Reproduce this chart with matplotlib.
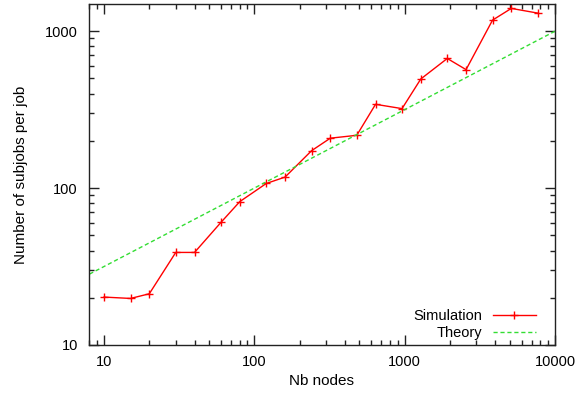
import matplotlib
matplotlib.use("Agg")
import matplotlib.pyplot as plt
from matplotlib.ticker import LogLocator, NullFormatter, FixedLocator, FixedFormatter

plt.rcParams['font.family'] = ['Liberation Sans', 'DejaVu Sans']

# simulation results: number of nodes vs subjobs per job
nodes = [10, 15, 20, 30, 40, 60, 80, 120, 160, 240, 320, 480, 640, 960,
         1280, 1920, 2560, 3840, 5120, 7680]
subjobs = [20.2, 19.8, 21.2, 38.9, 38.9, 60.5, 82, 107, 117.5, 173, 208, 217,
           342, 321, 496, 670, 569, 1176, 1397, 1304]

# theoretical curve (straight line on log-log axes)
theory_x = [8, 10000]
theory_y = [28.3, 1000]

xticks = [10, 100, 1000, 10000]
yticks = [10, 100, 1000]

fig = plt.figure(figsize=(5.77, 3.94), dpi=100)
ax = fig.add_axes([0.1542, 0.1244, 0.8077, 0.8654])

ax.plot(nodes, subjobs, color='#ff0000', lw=1.0, marker='+', ms=6, mew=1.0,
        label='Simulation')
ax.plot(theory_x, theory_y, color='#33dd33', lw=1.0, ls=(0, (3, 2)),
        label='Theory')

ax.set_xscale('log')
ax.set_yscale('log')
ax.set_xlim(7.94, 10000)
ax.set_ylim(10, 1490)

ax.xaxis.set_major_locator(FixedLocator(xticks))
ax.xaxis.set_major_formatter(FixedFormatter([str(v) for v in xticks]))
ax.yaxis.set_major_locator(FixedLocator(yticks))
ax.yaxis.set_major_formatter(FixedFormatter([str(v) for v in yticks]))
for axis in (ax.xaxis, ax.yaxis):
    axis.set_minor_locator(LogLocator(base=10, subs=range(2, 10)))
    axis.set_minor_formatter(NullFormatter())

ax.tick_params(which='both', direction='in', top=True, right=True,
               labelsize=10.5, color='#222222')
ax.tick_params(axis='x', pad=7)
ax.tick_params(axis='y', pad=8)
ax.tick_params(which='major', length=7, width=1)
ax.tick_params(which='minor', length=3.5, width=1)
for s in ax.spines.values():
    s.set_linewidth(1.0)
    s.set_color('#222222')

ax.set_xlabel('Nb nodes', fontsize=11, labelpad=4)
ax.set_ylabel('Number of subjobs per job', fontsize=11, labelpad=12)

ax.legend(loc='lower right', bbox_to_anchor=(0.985, -0.02), frameon=False,
          markerfirst=False, numpoints=1, handlelength=3.0, fontsize=10.5,
          labelspacing=0.2, handletextpad=0.7, borderpad=0.3)

fig.savefig('out.png', dpi=100)
